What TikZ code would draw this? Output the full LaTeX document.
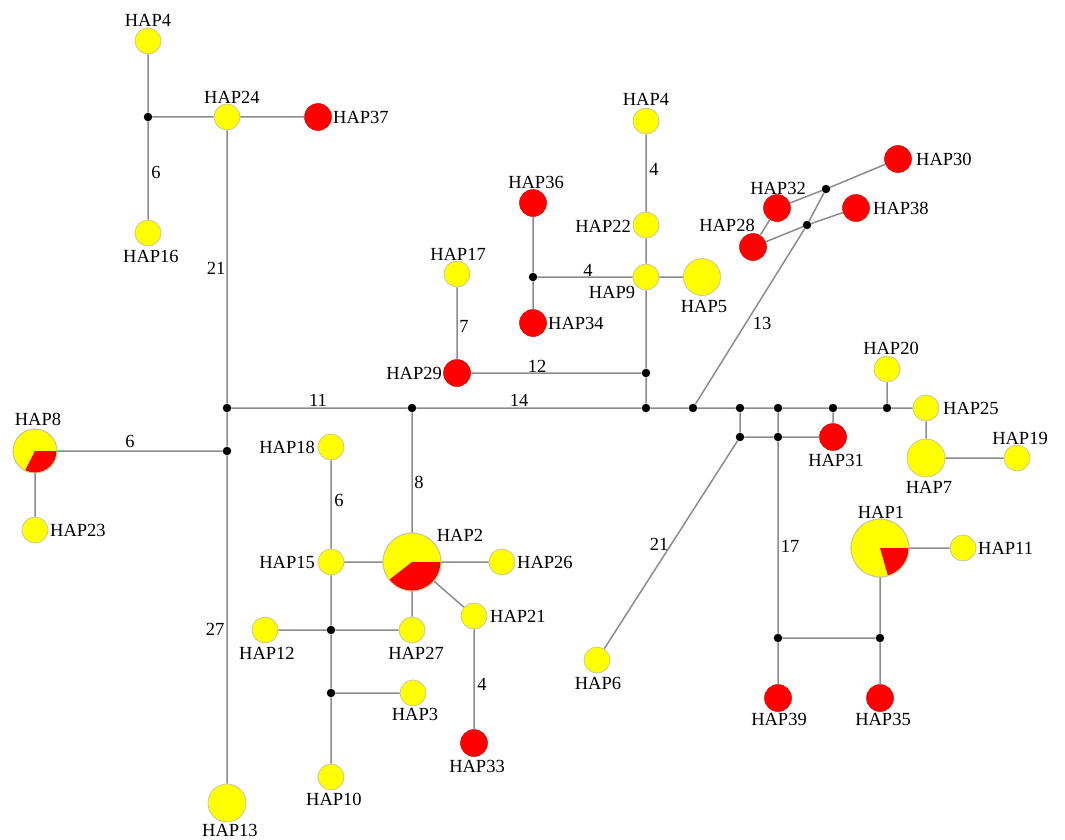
\documentclass[tikz,border=0pt]{standalone}
\usepackage{fontspec}
\setmainfont{Liberation Serif}
\newfontfamily\hapfont{Liberation Serif}
\definecolor{hapyellow}{RGB}{255,255,0}
\definecolor{hapred}{RGB}{255,0,0}
\definecolor{hapedge}{RGB}{200,200,150}
\definecolor{linegray}{RGB}{140,140,140}
\tikzset{
  hapY/.style={circle, fill=hapyellow, draw=hapedge, line width=0.8pt, inner sep=0pt, minimum size=26pt},
  hapR/.style={circle, fill=hapred, draw=hapred!85!black, line width=0.5pt, inner sep=0pt, minimum size=27pt},
  jn/.style={circle, fill=black, inner sep=0pt, minimum size=8.5pt},
  lnk/.style={draw=linegray, line width=1.5pt},
  lab/.style={font=\hapfont\fontsize{18.5}{20}\selectfont, inner sep=0pt},
}
\begin{document}
\begin{tikzpicture}[x=1pt, y=-1pt]
\useasboundingbox (0,0) rectangle (1065,840);
% ---------- haplotype nodes ----------
\node[hapY] (h4a) at (148,41) {};
\node[hapY] (h24) at (227,117) {};
\node[hapR] (h37) at (318,117) {};
\node[hapY] (h16) at (148,233) {};
\node[hapY, minimum size=44pt] (h8) at (35,451) {};
\node[hapY] (h23) at (35,530) {};
\node[hapY, minimum size=38pt] (h13) at (227,803) {};
\node[hapY] (h18) at (331,447) {};
\node[hapY] (h15) at (331,562) {};
\node[hapY, minimum size=58pt] (h2) at (412,562) {};
\node[hapY] (h26) at (502,562) {};
\node[hapY] (h21) at (474,616) {};
\node[hapR] (h33) at (474,743) {};
\node[hapY] (h12) at (265,630) {};
\node[hapY] (h27) at (412,630) {};
\node[hapY] (h3) at (413,693) {};
\node[hapY] (h10) at (331,777) {};
\node[hapY] (h17) at (457,274) {};
\node[hapR] (h29) at (457,373) {};
\node[hapR] (h36) at (533,203) {};
\node[hapR] (h34) at (533,323) {};
\node[hapY] (h9) at (646,277) {};
\node[hapY] (h22) at (646,225) {};
\node[hapY] (h4b) at (646,121) {};
\node[hapY, minimum size=37pt] (h5) at (702,277) {};
\node[hapR] (h30) at (898,159) {};
\node[hapR] (h32) at (777,208) {};
\node[hapR] (h38) at (856,208) {};
\node[hapR] (h28) at (753,247) {};
\node[hapY] (h20) at (887,369) {};
\node[hapY] (h25) at (926,408) {};
\node[hapY, minimum size=38pt] (h7) at (926,458) {};
\node[hapY] (h19) at (1017,458) {};
\node[hapR] (h31) at (833,437) {};
\node[hapY, minimum size=58pt] (h1) at (880,548) {};
\node[hapY] (h11) at (963,548) {};
\node[hapR] (h39) at (778,698) {};
\node[hapR] (h35) at (880,698) {};
\node[hapY] (h6) at (597,660) {};
% ---------- pie sectors ----------
\fill[hapred] (h2.center) -- ++(0:28.6pt) arc[start angle=0, end angle=-142, radius=28.6pt] -- cycle;
\draw[hapedge, line width=0.8pt] (h2.center) circle[radius=29pt];
\fill[hapred] (h1.center) -- ++(0:28.6pt) arc[start angle=0, end angle=-74, radius=28.6pt] -- cycle;
\draw[hapedge, line width=0.8pt] (h1.center) circle[radius=29pt];
\fill[hapred] (h8.center) -- ++(0:21.6pt) arc[start angle=0, end angle=-117, radius=21.6pt] -- cycle;
\draw[hapedge, line width=0.8pt] (h8.center) circle[radius=22pt];
% ---------- median vectors ----------
\node[jn] (j1) at (148,117) {};
\node[jn] (j7) at (227,408) {};
\node[jn] (j8) at (227,451) {};
\node[jn] (j9) at (412,408) {};
\node[jn] (j10) at (331,630) {};
\node[jn] (j11) at (331,693) {};
\node[jn] (j2) at (533,277) {};
\node[jn] (j3) at (646,373) {};
\node[jn] (j20) at (646,408) {};
\node[jn] (j6) at (693,408) {};
\node[jn] (j5) at (807,225) {};
\node[jn] (j4) at (826,189) {};
\node[jn] (j12) at (740,408) {};
\node[jn] (j13) at (778,408) {};
\node[jn] (j14) at (833,408) {};
\node[jn] (j15) at (887,408) {};
\node[jn] (j16) at (740,437) {};
\node[jn] (j17) at (778,437) {};
\node[jn] (j18) at (778,638) {};
\node[jn] (j19) at (880,638) {};
% ---------- connectors ----------
\path[lnk] (h4a) -- (j1) (j1) -- (h16) (j1) -- (h24) (h24) -- (h37) (h24) -- (j7)
  (j7) -- (j8) (j8) -- (h13) (j8) -- (h8) (h8) -- (h23) (j7) -- (j9)
  (j9) -- (h2) (j9) -- (j20) (h2) -- (h15) (h2) -- (h26) (h2) -- (h27) (h2) -- (h21)
  (h21) -- (h33) (h15) -- (h18) (h15) -- (j10) (j10) -- (j11) (j11) -- (h10)
  (j10) -- (h12) (j10) -- (h27) (j11) -- (h3)
  (j20) -- (j3) (j3) -- (h29) (h29) -- (h17) (j3) -- (h9) (h9) -- (h22) (h22) -- (h4b)
  (h9) -- (h5) (h9) -- (j2) (j2) -- (h36) (j2) -- (h34)
  (j20) -- (j6) (j6) -- (j5) (j5) -- (j4) (j4) -- (h32) (j4) -- (h30) (j5) -- (h28) (j5) -- (h38) (h28) -- (h32)
  (j6) -- (j12) (j12) -- (j13) (j13) -- (j14) (j14) -- (j15) (j15) -- (h25) (j15) -- (h20) (j14) -- (h31)
  (j12) -- (j16) (j16) -- (j17) (j17) -- (h31) (j13) -- (j17) (j17) -- (j18) (j16) -- (h6)
  (j18) -- (h39) (j18) -- (j19) (j19) -- (h1) (j19) -- (h35) (h1) -- (h11)
  (h25) -- (h7) (h7) -- (h19);
% ---------- haplotype labels ----------
\node[lab] (t4a) at (148,20) {HAP4};
\node[lab] (t24) at (232,97) {HAP24};
\node[lab, anchor=west] (t37) at (333,117) {HAP37};
\node[lab] (t16) at (151,256) {HAP16};
\node[lab] (t8) at (38,419) {HAP8};
\node[lab, anchor=west] (t23) at (50,530) {HAP23};
\node[lab] (t13) at (230,830) {HAP13};
\node[lab, anchor=east] (t18) at (315,447) {HAP18};
\node[lab, anchor=east] (t15) at (315,562) {HAP15};
\node[lab] (t2) at (460,535) {HAP2};
\node[lab, anchor=west] (t26) at (517,562) {HAP26};
\node[lab, anchor=west] (t21) at (490,616) {HAP21};
\node[lab] (t33) at (477,766) {HAP33};
\node[lab] (t12) at (267,653) {HAP12};
\node[lab] (t27) at (416,653) {HAP27};
\node[lab] (t3) at (415,714) {HAP3};
\node[lab] (t10) at (334,799) {HAP10};
\node[lab] (t17) at (458,254) {HAP17};
\node[lab, anchor=east] (t29) at (442,373) {HAP29};
\node[lab] (t36) at (536,182) {HAP36};
\node[lab, anchor=west] (t34) at (548,323) {HAP34};
\node[lab] (t9) at (612,292) {HAP9};
\node[lab, anchor=east] (t22) at (631,226) {HAP22};
\node[lab] (t4b) at (646,99) {HAP4};
\node[lab] (t5) at (704,306) {HAP5};
\node[lab, anchor=west] (t30) at (916,159) {HAP30};
\node[lab] (t32) at (778,188) {HAP32};
\node[lab, anchor=west] (t38) at (873,208) {HAP38};
\node[lab] (t28) at (727,225) {HAP28};
\node[lab] (t20) at (891,348) {HAP20};
\node[lab, anchor=west] (t25) at (943,408) {HAP25};
\node[lab] (t7) at (929,487) {HAP7};
\node[lab] (t19) at (1020,438) {HAP19};
\node[lab] (t31) at (836,460) {HAP31};
\node[lab] (t1) at (881,512) {HAP1};
\node[lab, anchor=west] (t11) at (978,548) {HAP11};
\node[lab] (t39) at (779,719) {HAP39};
\node[lab] (t35) at (883,719) {HAP35};
\node[lab] (t6) at (598,683) {HAP6};
% ---------- mutation counts ----------
\node[lab] (m1) at (156,172) {6};
\node[lab] (m2) at (216,268) {21};
\node[lab] (m3) at (130,441) {6};
\node[lab] (m4) at (318,400) {11};
\node[lab] (m5) at (519,400) {14};
\node[lab] (m6) at (339,500) {6};
\node[lab] (m7) at (419,482) {8};
\node[lab] (m8) at (215,629) {27};
\node[lab] (m9) at (482,684) {4};
\node[lab] (m10) at (464,326) {7};
\node[lab] (m11) at (537,366) {12};
\node[lab] (m12) at (588,270) {4};
\node[lab] (m13) at (654,169) {4};
\node[lab] (m14) at (762,323) {13};
\node[lab] (m15) at (659,544) {21};
\node[lab] (m16) at (790,546) {17};
\end{tikzpicture}
\end{document}
